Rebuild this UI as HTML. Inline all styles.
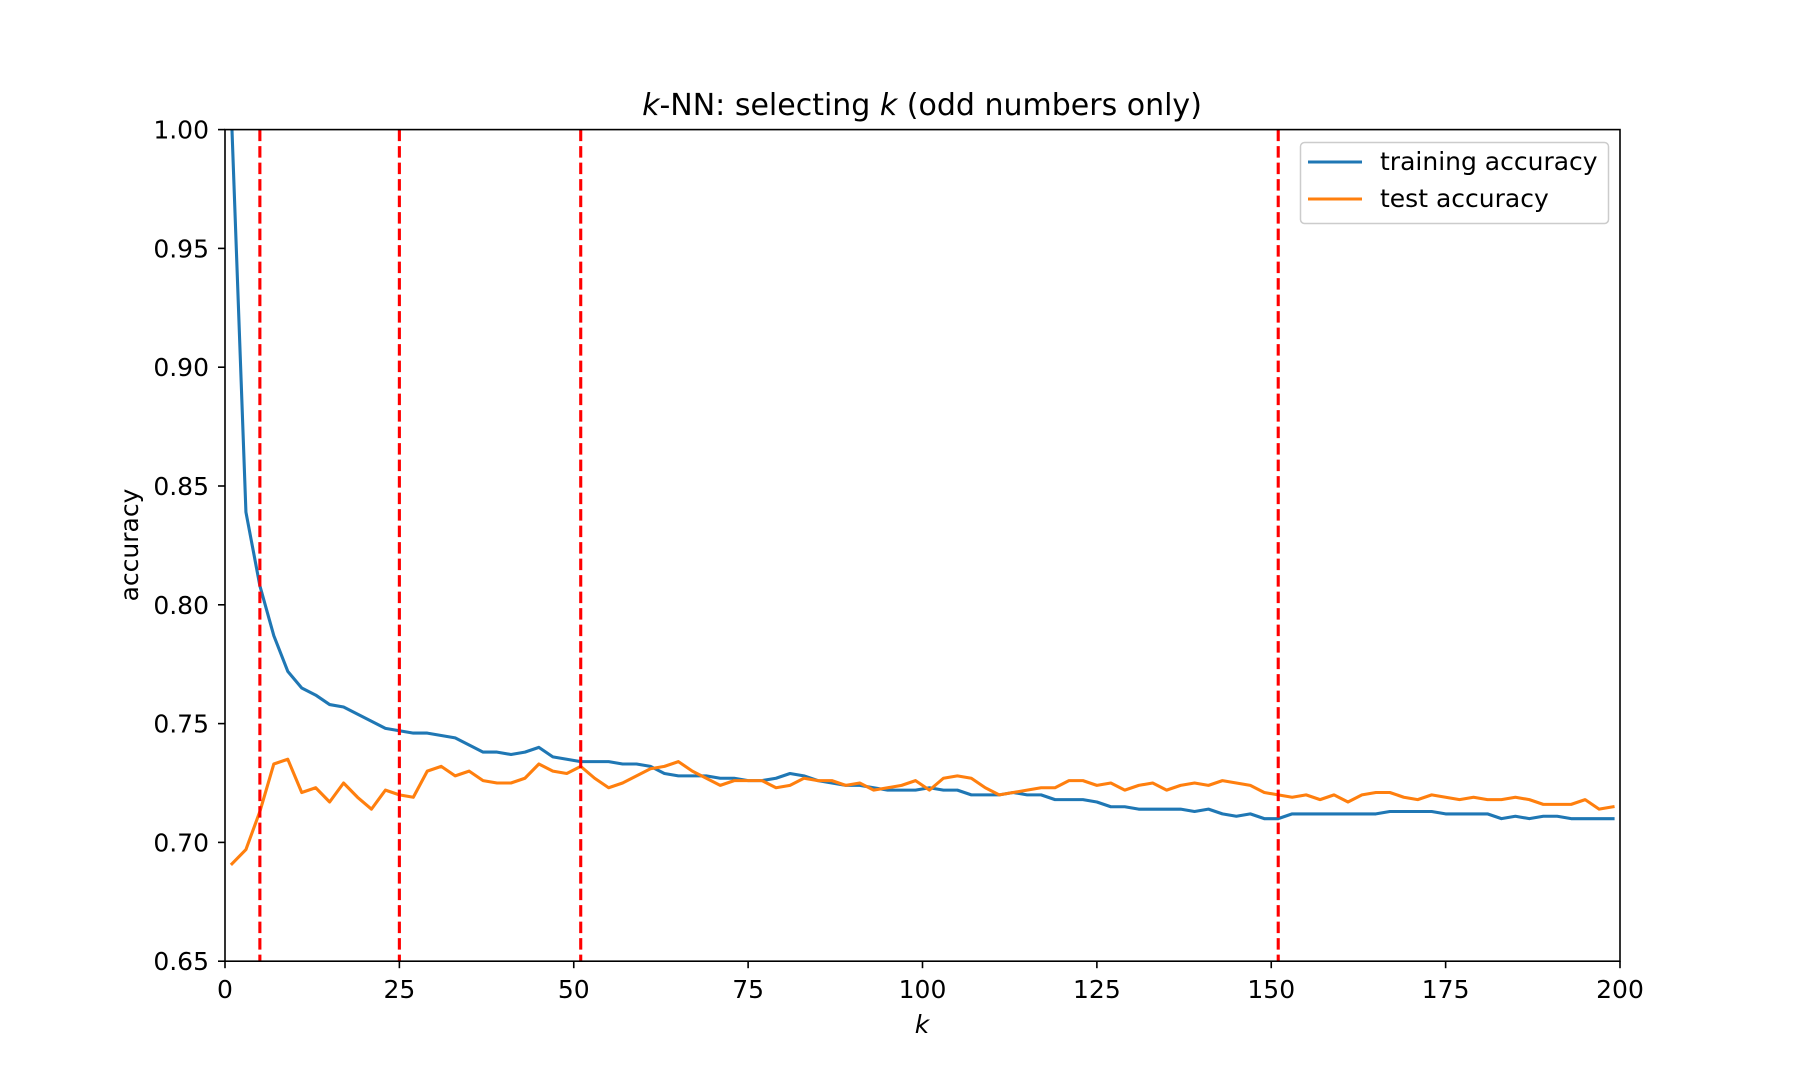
<!DOCTYPE html>
<html><head><meta charset="utf-8"><style>
html,body{margin:0;padding:0;background:#fff;}
svg{display:block;font-family:"DejaVu Sans","Liberation Sans",sans-serif;}
</style></head><body>
<svg id="chart" width="1800" height="1080" viewBox="0 0 1800 1080">
<rect width="1800" height="1080" fill="#fff"/>
<text x="922" y="115" text-anchor="middle" font-size="30"><tspan font-style="italic">k</tspan>-NN: selecting <tspan font-style="italic">k</tspan> (odd numbers only)</text>
<defs><clipPath id="clip"><rect x="225" y="129.6" width="1395" height="831.6"/></clipPath></defs>
<g id="grid-ticks"></g>
<g id="series" clip-path="url(#clip)"></g>
<rect x="225" y="129.6" width="1395" height="831.6" fill="none" stroke="#000" stroke-width="1.6"/>
<text x="922" y="1033" text-anchor="middle" font-size="25" font-style="italic">k</text>
<text transform="translate(138,545) rotate(-90)" text-anchor="middle" font-size="25">accuracy</text>
<g>
<rect x="1300.5" y="142.5" width="308" height="81" rx="4" fill="#fff" fill-opacity="0.8" stroke="#ccc" stroke-width="1.5"/>
<line x1="1308" y1="162" x2="1362" y2="162" stroke="#1f77b4" stroke-width="3.1"/>
<text x="1380" y="170" font-size="25">training accuracy</text>
<line x1="1308" y1="199" x2="1362" y2="199" stroke="#ff7f0e" stroke-width="3.1"/>
<text x="1380" y="207" font-size="25">test accuracy</text>
</g>
</svg>
<script>
const kValues = [];
for (let k = 1; k < 200; k += 2) kValues.push(k);
const trainAcc = [1.0,0.839,0.808,0.787,0.772,0.765,0.762,0.758,0.757,0.754,0.751,0.748,0.747,0.746,0.746,0.745,0.744,0.741,0.738,0.738,0.737,0.738,0.740,0.736,0.735,0.734,0.734,0.734,0.733,0.733,0.732,0.729,0.728,0.728,0.728,0.727,0.727,0.726,0.726,0.727,0.729,0.728,0.726,0.725,0.724,0.724,0.723,0.722,0.722,0.722,0.723,0.722,0.722,0.720,0.720,0.720,0.721,0.720,0.720,0.718,0.718,0.718,0.717,0.715,0.715,0.714,0.714,0.714,0.714,0.713,0.714,0.712,0.711,0.712,0.710,0.710,0.712,0.712,0.712,0.712,0.712,0.712,0.712,0.713,0.713,0.713,0.713,0.712,0.712,0.712,0.712,0.710,0.711,0.710,0.711,0.711,0.710,0.710,0.710,0.710];
const testAcc = [0.691,0.697,0.713,0.733,0.735,0.721,0.723,0.717,0.725,0.719,0.714,0.722,0.720,0.719,0.730,0.732,0.728,0.730,0.726,0.725,0.725,0.727,0.733,0.730,0.729,0.732,0.727,0.723,0.725,0.728,0.731,0.732,0.734,0.730,0.727,0.724,0.726,0.726,0.726,0.723,0.724,0.727,0.726,0.726,0.724,0.725,0.722,0.723,0.724,0.726,0.722,0.727,0.728,0.727,0.723,0.720,0.721,0.722,0.723,0.723,0.726,0.726,0.724,0.725,0.722,0.724,0.725,0.722,0.724,0.725,0.724,0.726,0.725,0.724,0.721,0.720,0.719,0.720,0.718,0.720,0.717,0.720,0.721,0.721,0.719,0.718,0.720,0.719,0.718,0.719,0.718,0.718,0.719,0.718,0.716,0.716,0.716,0.718,0.714,0.715];
const markerK = [5, 25, 51, 151];
const xTicks = [0, 25, 50, 75, 100, 125, 150, 175, 200];
const yTicks = [0.65, 0.70, 0.75, 0.80, 0.85, 0.90, 0.95, 1.00];

const L=225,R=1620,T=129.6,B=961.2;
const xs = v => L + (v-0)/(200-0)*(R-L);
const ys = v => B - (v-0.65)/(1.0-0.65)*(B-T);
const NS="http://www.w3.org/2000/svg";
const gt=document.getElementById('grid-ticks');
const gs=document.getElementById('series');
function mk(tag, attrs, parent){const e=document.createElementNS(NS,tag);for(const a in attrs)e.setAttribute(a,attrs[a]);parent.appendChild(e);return e;}

xTicks.forEach(v=>{
  const t=mk('line',{x1:xs(v),x2:xs(v),y1:B,y2:B+7,stroke:'#000','stroke-width':1.6},gt);
  
  
  const l=mk('text',{x:xs(v),y:B+37,'text-anchor':'middle','font-size':25},gt);
  l.textContent=String(v);
  
  
});
yTicks.forEach(v=>{
  const t=mk('line',{x1:L-7,x2:L,y1:ys(v),y2:ys(v),stroke:'#000','stroke-width':1.6},gt);
  
  
  const l=mk('text',{x:L-16,y:ys(v)+9,'text-anchor':'end','font-size':25},gt);
  l.textContent=v.toFixed(2);
  
  
});
function line(vals,color,name){
  const d=vals.map((v,i)=>(i?'L':'M')+xs(kValues[i]).toFixed(2)+' '+ys(v).toFixed(2)).join(' ');
  const p=mk('path',{d:d,fill:'none',stroke:color,'stroke-width':3.1,'stroke-linejoin':'round','stroke-linecap':'square'},gs);
  
  
}
line(trainAcc,'#1f77b4','training-accuracy-line');
line(testAcc,'#ff7f0e','test-accuracy-line');
markerK.forEach(k=>{
  const m=mk('line',{x1:xs(k),x2:xs(k),y1:T,y2:B,stroke:'#ff0000','stroke-width':3.1,'stroke-dasharray':'11.5 5'},gs);
  
  
});
</script>
</body></html>
